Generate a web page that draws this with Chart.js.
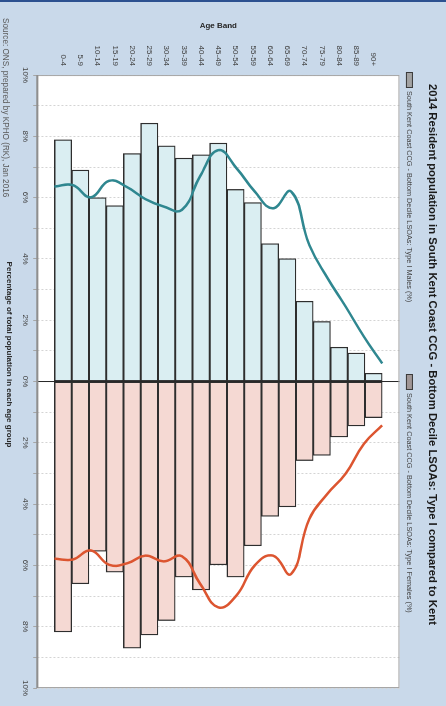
<!DOCTYPE html>
<html>
<head>
<meta charset="utf-8">
<script src="https://cdn.jsdelivr.net/npm/chart.js@4.4.1/dist/chart.umd.min.js"></script>
<style>
  html, body { margin: 0; padding: 0; }
  body { width: 446px; height: 706px; overflow: hidden; background: #c9d9ea; position: relative; }
  #topLine { position: absolute; left: 0; top: 0; width: 446px; height: 2px; background: #2c5190; }
  /* the chart is drawn landscape and turned a quarter clockwise */
  #turn { position: absolute; left: 0; top: 0; width: 706px; height: 446px;
          transform-origin: 0 0; transform: translateX(446px) rotate(90deg); }
</style>
</head>
<body>
<div id="topLine"></div>
<div id="turn"><canvas id="pyramidChart" width="706" height="446"></canvas></div>
<script>
// ---- data (percent of total population) ----
const ageBands = ['0-4', '5-9', '10-14', '15-19', '20-24', '25-29', '30-34', '35-39', '40-44',
  '45-49', '50-54', '55-59', '60-64', '65-69', '70-74', '75-79', '80-84', '85-89', '90+'];
const malesPct = [7.89, 6.90, 6.00, 5.74, 7.44, 8.43, 7.69, 7.29, 7.40, 7.78,
  6.27, 5.84, 4.50, 4.01, 2.62, 1.96, 1.12, 0.93, 0.27];
const femalesPct = [8.17, 6.60, 5.54, 6.22, 8.70, 8.27, 7.80, 6.38, 6.80, 5.98,
  6.38, 5.36, 4.40, 4.09, 2.58, 2.41, 1.81, 1.45, 1.18];
const kentMalesPct = [6.36, 6.41, 6.01, 6.55, 6.34, 5.95, 5.71, 5.60, 6.70, 7.55,
  6.96, 6.20, 5.65, 6.20, 4.45, 3.37, 2.44, 1.46, 0.59];
const kentFemalesPct = [5.78, 5.81, 5.51, 5.98, 5.93, 5.68, 5.87, 5.70, 6.60, 7.37,
  6.98, 6.00, 5.68, 6.28, 4.48, 3.66, 3.00, 2.03, 1.43];

const FONT = "'Liberation Sans', Arial, sans-serif";
Chart.defaults.font.family = FONT;
Chart.defaults.color = '#404040';

// one empty slot each end of the age axis, like the original
const bandLabels = ['', ...ageBands, ''];
const n = ageBands.length;
const lineMin = -(n - 1) / n;          // kent lines run from edge to edge of the bars
const lineMax = (n - 1) + (n - 1) / n;

const legendStart = [72, 374];

const frame = {
  id: 'frame',
  beforeDraw(chart) {
    const { ctx, chartArea: a } = chart;
    ctx.save();
    ctx.fillStyle = '#ffffff';
    ctx.fillRect(a.left, a.top, a.right - a.left, a.bottom - a.top);
    ctx.restore();
  },
  afterDatasetsDraw(chart) {
    const { ctx, chartArea: a, scales } = chart;
    const x0 = scales.x.getPixelForValue(0);
    ctx.save();
    ctx.strokeStyle = '#262626';
    ctx.lineWidth = 1;
    ctx.beginPath();
    ctx.moveTo(x0, a.top);
    ctx.lineTo(x0, a.bottom);
    ctx.stroke();
    ctx.strokeStyle = '#a6a6a6';
    ctx.strokeRect(a.left + 0.5, a.top + 0.5, a.right - a.left - 1, a.bottom - a.top - 1);
    ctx.strokeStyle = '#8f8f8f';
    ctx.lineWidth = 2;
    ctx.beginPath();
    ctx.moveTo(a.left, a.bottom);
    ctx.lineTo(a.right, a.bottom);
    ctx.stroke();
    ctx.restore();
  },
  afterDraw(chart) {
    const { ctx, chartArea: a } = chart;
    ctx.save();
    // legend, spread out the way Excel does it
    const bars = chart.data.datasets.filter(d => d.type === 'bar');
    const ly = a.top - 10;
    ctx.font = '7.3px ' + FONT;
    ctx.textBaseline = 'middle';
    bars.forEach((ds, i) => {
      const lx = legendStart[i];
      ctx.fillStyle = ds.legendFill;
      ctx.strokeStyle = '#3a3a3a';
      ctx.lineWidth = 1;
      ctx.fillRect(lx, ly - 3.5, 16, 7);
      ctx.strokeRect(lx + 0.5, ly - 3, 15, 6);
      ctx.fillStyle = '#404040';
      ctx.fillText(ds.label, lx + 19, ly);
    });
    // source note
    ctx.font = '8.2px ' + FONT;
    ctx.fillStyle = '#595959';
    ctx.fillText('Source: ONS, prepared by KPHO (RK), Jan 2016', 18, chart.height - 5);
    ctx.restore();
  }
};

const ctx = document.getElementById('pyramidChart').getContext('2d');
const pyramidChart = new Chart(ctx, {
  data: {
    labels: bandLabels,
    datasets: [
      {
        type: 'line',
        label: 'Kent Males (%)',
        data: kentMalesPct.map((v, i) => ({ x: -v, y: i })),
        yAxisID: 'yLine',
        borderColor: '#2f8790',
        borderWidth: 2.5,
        pointRadius: 0,
        tension: 0.45,
        order: 0
      },
      {
        type: 'line',
        label: 'Kent Females (%)',
        data: kentFemalesPct.map((v, i) => ({ x: v, y: i })),
        yAxisID: 'yLine',
        borderColor: '#dc5530',
        borderWidth: 2.5,
        pointRadius: 0,
        tension: 0.45,
        order: 0
      },
      {
        type: 'bar',
        label: 'South Kent Coast CCG - Bottom Decile LSOAs: Type I Males (%)',
        data: [null, ...malesPct.map(v => -v), null],
        yAxisID: 'y',
        backgroundColor: '#daeef2',
        legendFill: '#a3a3a3',
        borderColor: '#2e2e2e',
        borderWidth: 1.3,
        borderSkipped: false,
        grouped: false,
        categoryPercentage: 1,
        barPercentage: 1,
        order: 1
      },
      {
        type: 'bar',
        label: 'South Kent Coast CCG - Bottom Decile LSOAs: Type I Females (%)',
        data: [null, ...femalesPct, null],
        yAxisID: 'y',
        backgroundColor: '#f5d9d3',
        legendFill: '#a09696',
        borderColor: '#2e2e2e',
        borderWidth: 1.3,
        borderSkipped: false,
        grouped: false,
        categoryPercentage: 1,
        barPercentage: 1,
        order: 1
      }
    ]
  },
  options: {
    indexAxis: 'y',
    responsive: false,
    animation: false,
    layout: { padding: { left: 21, right: 18, top: 0, bottom: 0 } },
    plugins: {
      legend: { display: false },
      tooltip: { enabled: false },
      title: {
        display: true,
        text: '2014 Resident population in South Kent Coast CCG - Bottom Decile LSOAs: Type I compared to Kent',
        color: '#1a1a1a',
        font: { size: 11.3, weight: 'bold' },
        padding: { top: 7, bottom: 26 }
      },
      subtitle: {
        display: true,
        position: 'bottom',
        text: 'Percentage of total population in each age group',
        color: '#262626',
        font: { size: 8, weight: 'bold' },
        padding: { top: 4, bottom: 4 }
      }
    },
    scales: {
      x: {
        type: 'linear',
        min: -10,
        max: 10,
        ticks: {
          stepSize: 1,
          autoSkip: false,
          maxRotation: 0,
          padding: 3,
          font: { size: 8 },
          color: '#404040',
          callback: v => (v % 2 === 0 ? Math.abs(v) + '%' : '')
        },
        grid: { color: '#d4d4d4', tickColor: '#a6a6a6', tickLength: 4, tickBorderDash: [] },
        border: { display: false, dash: [2, 2] }
      },
      y: {
        type: 'category',
        reverse: true,
        offset: true,
        grid: { display: false, drawTicks: false },
        border: { display: false },
        ticks: { autoSkip: false, padding: 9, font: { size: 8 }, color: '#404040' },
        title: {
          display: true,
          text: 'Age Band',
          color: '#262626',
          font: { size: 8, weight: 'bold' },
          padding: { top: 0, bottom: 6 }
        }
      },
      yLine: {
        type: 'linear',
        display: false,
        min: lineMin,
        max: lineMax
      }
    }
  },
  plugins: [frame]
});
</script>
</body>
</html>
